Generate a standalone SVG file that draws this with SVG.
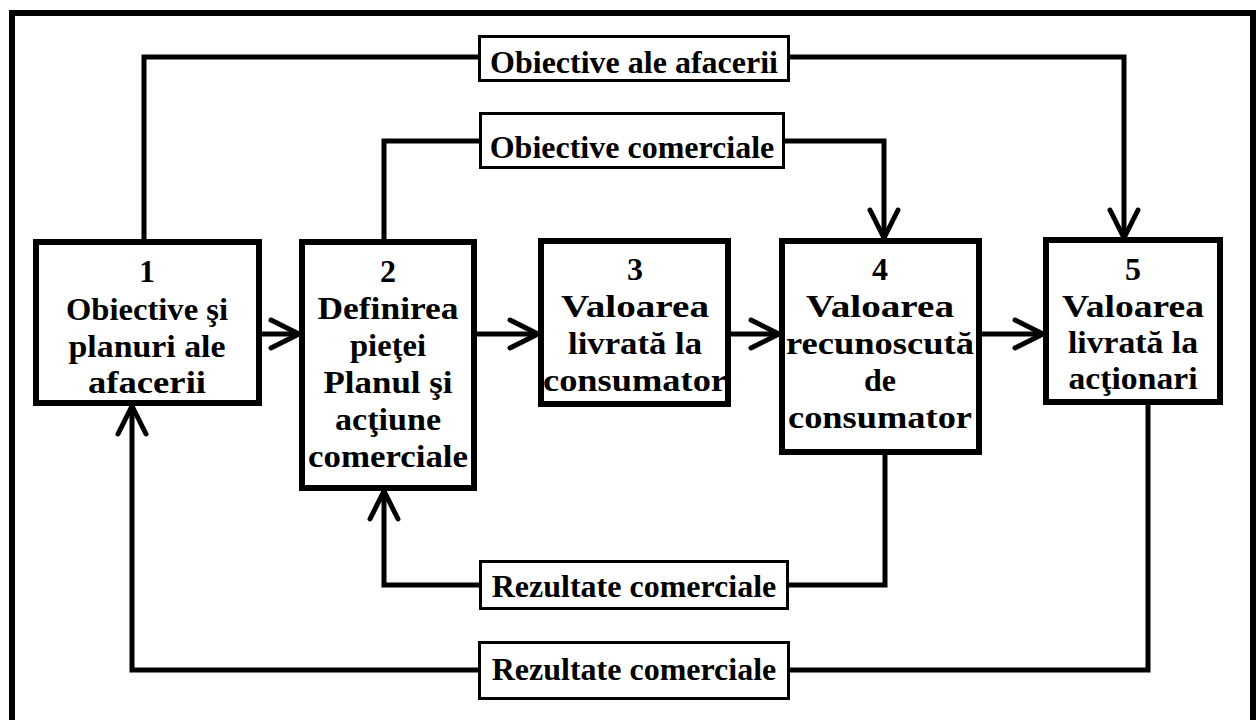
<svg xmlns="http://www.w3.org/2000/svg" width="1256" height="720" viewBox="0 0 1256 720">
<style>
.frame{fill:none;stroke:#000;stroke-width:6}
.box{fill:#fff;stroke:#000;stroke-width:6}
.lbl{fill:#fff;stroke:#000;stroke-width:3}
.con{fill:none;stroke:#000;stroke-width:5;stroke-linejoin:miter}
.t{font-family:"Liberation Serif","Times New Roman",serif;font-weight:bold;font-size:32px;fill:#000;text-anchor:middle}
</style>
<defs>
<marker id="arr" markerUnits="userSpaceOnUse" viewBox="-36 -20 42 40" refX="0" refY="0" markerWidth="42" markerHeight="40" orient="auto" overflow="visible">
<path d="M-28,-14 L0,0 L-28,14" fill="none" stroke="#000" stroke-width="5" stroke-linecap="round" stroke-linejoin="miter"/>
</marker>
</defs>
<rect width="1256" height="720" fill="#fff"/>
<rect class="frame" x="12" y="13" width="1241" height="712"/>
<g id="connectors">
<path class="con" d="M144,239 V57 H479"/>
<path class="con" d="M789,57 H1124 V238" marker-end="url(#arr)"/>
<path class="con" d="M384,239 V141 H480"/>
<path class="con" d="M784,141 H884 V238" marker-end="url(#arr)"/>
<path class="con" d="M262,334 H299" marker-end="url(#arr)"/>
<path class="con" d="M477,334 H538" marker-end="url(#arr)"/>
<path class="con" d="M731,334 H779" marker-end="url(#arr)"/>
<path class="con" d="M982,334 H1043" marker-end="url(#arr)"/>
<path class="con" d="M885,455 V585 H788"/>
<path class="con" d="M480,585 H384 V491" marker-end="url(#arr)"/>
<path class="con" d="M1148,405 V670 H789"/>
<path class="con" d="M479,670 H132 V406" marker-end="url(#arr)"/>
</g>
<g id="node1">
<rect class="box" x="36" y="242" width="223" height="161"/>
<text class="t" x="147" y="282">1</text>
<text class="t" x="147" y="320" textLength="162" lengthAdjust="spacingAndGlyphs">Obiective şi</text>
<text class="t" x="147" y="357" textLength="157" lengthAdjust="spacingAndGlyphs">planuri ale</text>
<text class="t" x="147" y="393" textLength="118" lengthAdjust="spacingAndGlyphs">afacerii</text>
</g>
<g id="node2">
<rect class="box" x="302" y="242" width="172" height="246"/>
<text class="t" x="388" y="282">2</text>
<text class="t" x="388" y="319" textLength="141" lengthAdjust="spacingAndGlyphs">Definirea</text>
<text class="t" x="388" y="356" textLength="76" lengthAdjust="spacingAndGlyphs">pieţei</text>
<text class="t" x="388" y="393" textLength="129" lengthAdjust="spacingAndGlyphs">Planul şi</text>
<text class="t" x="388" y="430" textLength="106" lengthAdjust="spacingAndGlyphs">acţiune</text>
<text class="t" x="388" y="467" textLength="160" lengthAdjust="spacingAndGlyphs">comerciale</text>
</g>
<g id="node3">
<rect class="box" x="541" y="241" width="187" height="163"/>
<text class="t" x="635" y="280">3</text>
<text class="t" x="635" y="317" textLength="148" lengthAdjust="spacingAndGlyphs">Valoarea</text>
<text class="t" x="635" y="354" textLength="134" lengthAdjust="spacingAndGlyphs">livrată la</text>
<text class="t" x="635" y="391" textLength="184" lengthAdjust="spacingAndGlyphs">consumator</text>
</g>
<g id="node4">
<rect class="box" x="782" y="241" width="197" height="211"/>
<text class="t" x="880" y="280">4</text>
<text class="t" x="880" y="317" textLength="148" lengthAdjust="spacingAndGlyphs">Valoarea</text>
<text class="t" x="880" y="354" textLength="188" lengthAdjust="spacingAndGlyphs">recunoscută</text>
<text class="t" x="880" y="391">de</text>
<text class="t" x="880" y="428" textLength="184" lengthAdjust="spacingAndGlyphs">consumator</text>
</g>
<g id="node5">
<rect class="box" x="1046" y="240" width="174" height="162"/>
<text class="t" x="1133" y="280">5</text>
<text class="t" x="1133" y="317" textLength="142" lengthAdjust="spacingAndGlyphs">Valoarea</text>
<text class="t" x="1133" y="353" textLength="130" lengthAdjust="spacingAndGlyphs">livrată la</text>
<text class="t" x="1133" y="389" textLength="129" lengthAdjust="spacingAndGlyphs">acţionari</text>
</g>
<g id="label1">
<rect class="lbl" x="479.5" y="36.5" width="309" height="44"/>
<text class="t" x="634" y="73">Obiective ale afacerii</text>
</g>
<g id="label2">
<rect class="lbl" x="480.5" y="113.5" width="303" height="54"/>
<text class="t" x="632" y="158">Obiective comerciale</text>
</g>
<g id="label3">
<rect class="lbl" x="480.5" y="561.5" width="307" height="47"/>
<text class="t" x="634" y="597">Rezultate comerciale</text>
</g>
<g id="label4">
<rect class="lbl" x="479.5" y="642.5" width="309" height="56"/>
<text class="t" x="634" y="680">Rezultate comerciale</text>
</g>
</svg>
